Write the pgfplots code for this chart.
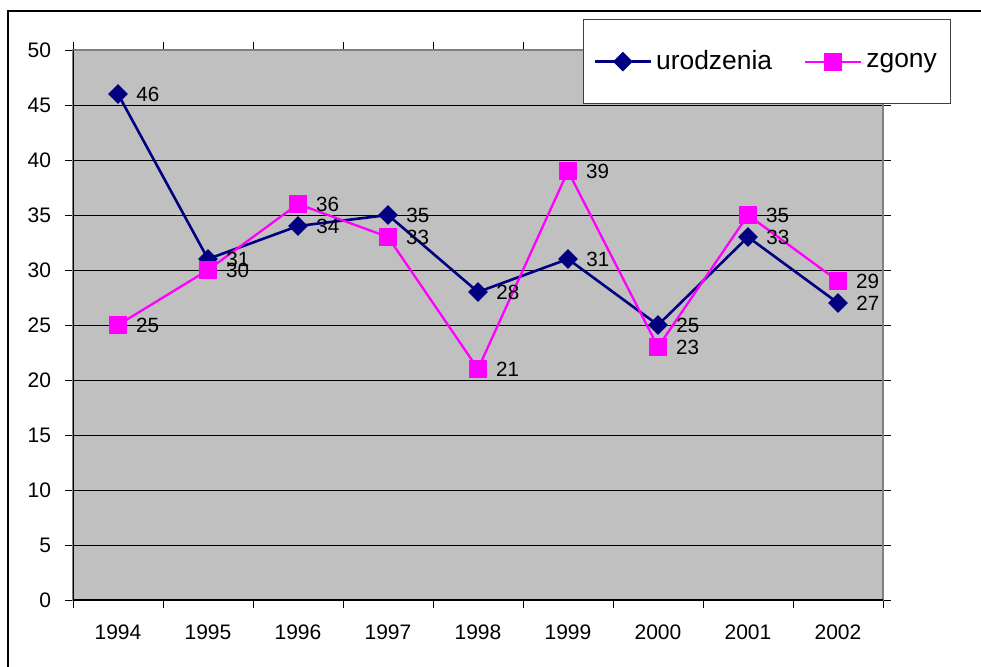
\documentclass[border=0pt]{standalone}
\usepackage{fontspec}
\setmainfont{Liberation Sans}
\usepackage{pgfplots}
\pgfplotsset{compat=1.18}
\definecolor{navy}{HTML}{000080}
\definecolor{pink}{HTML}{FF00FF}
\definecolor{plotbg}{HTML}{C0C0C0}
\definecolor{frame}{HTML}{808080}

\begin{document}
\begin{tikzpicture}
\useasboundingbox (0,0) rectangle (490.5pt,333pt);
% outer chart frame (cropped on the right and bottom)
\draw[line width=0.75pt] (4pt,-2pt) -- (4pt,327.5pt) -- (495pt,327.5pt);
\begin{axis}[
    at={(36.5pt,33pt)}, anchor=south west,
    width=405pt, height=275pt, scale only axis,
    xmin=-0.5, xmax=8.5, ymin=0, ymax=50,
    xtick={-0.5,0.5,...,8.5},
    x tick label as interval,
    xticklabels={1994,1995,1996,1997,1998,1999,2000,2001,2002},
    ytick={0,5,...,50},
    tick align=outside,
    major tick length=4pt,
    tick style={black, line width=0.5pt},
    ymajorgrids,
    grid style={black, line width=0.5pt},
    axis line style={frame, line width=1pt},
    axis background/.style={fill=plotbg},
    /pgf/number format/assume math mode=true,
    tick label style={font=\fontsize{10.5}{12}\selectfont},
    xticklabel style={yshift=-5pt},
    yticklabel style={xshift=-3.5pt},
    legend columns=2,
    legend style={at={(0.6296,1.0564)}, anchor=north west,
        draw=black!75, line width=0.6pt, fill=white,
        inner xsep=5pt, inner ysep=13.5pt,
        font=\fontsize{13.2}{15}\selectfont,
        /tikz/every even column/.append style={column sep=14pt}},
    legend image code/.code={
        \draw[mark repeat=2,mark phase=2] plot coordinates {(0pt,0pt) (14pt,0pt) (28pt,0pt)};},
    nodes near coords,
    every node near coord/.append style={anchor=west, inner sep=0pt, xshift=8.5pt,
        text=black, font=\fontsize{10.3}{12}\selectfont},
]
\addplot[navy, line width=1.3pt, mark=square*, mark size=2.83pt,
    mark options={rotate=45, solid, fill=navy}]
    coordinates {(0,46) (1,31) (2,34) (3,35) (4,28) (5,31) (6,25) (7,33) (8,27)};
\addplot[pink, line width=1.15pt, mark=square*, mark size=4pt,
    mark options={solid, fill=pink}]
    coordinates {(0,25) (1,30) (2,36) (3,33) (4,21) (5,39) (6,23) (7,35) (8,29)};
\legend{urodzenia, zgony}
\draw[black, line width=0.75pt] (rel axis cs:0,1) -- (rel axis cs:0,0) -- (rel axis cs:1,0);
\end{axis}
\end{tikzpicture}
\end{document}
